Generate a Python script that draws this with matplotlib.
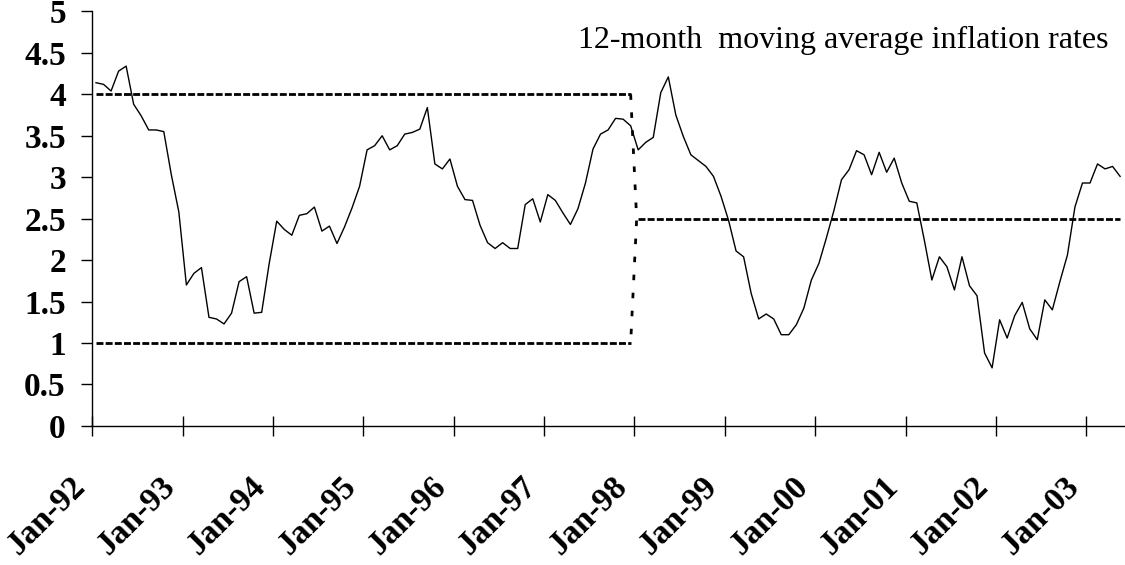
import matplotlib
matplotlib.use("Agg")
import matplotlib.pyplot as plt
import numpy as np
from matplotlib.transforms import ScaledTranslation

# monthly 12-month moving average inflation, Jan-92 .. May-03
inflation = [
    4.14, 4.12, 4.04, 4.28, 4.34, 3.88, 3.74, 3.57, 3.57, 3.55, 3.03, 2.58,
    1.70, 1.84, 1.91, 1.31, 1.29, 1.23, 1.36, 1.74, 1.80, 1.36, 1.37, 1.96,
    2.47, 2.37, 2.30, 2.54, 2.56, 2.64, 2.35, 2.41, 2.20, 2.40, 2.63, 2.89,
    3.33, 3.38, 3.50, 3.33, 3.38, 3.52, 3.54, 3.58, 3.84, 3.16, 3.10, 3.22,
    2.89, 2.73, 2.72, 2.42, 2.21, 2.14, 2.21, 2.14, 2.14, 2.67, 2.74, 2.46,
    2.79, 2.72, 2.57, 2.43, 2.62, 2.93, 3.34, 3.52, 3.57, 3.71, 3.70, 3.62,
    3.33, 3.42, 3.48, 4.02, 4.21, 3.75, 3.49, 3.27, 3.20, 3.13, 3.01, 2.77,
    2.48, 2.11, 2.04, 1.60, 1.29, 1.35, 1.29, 1.10, 1.10, 1.22, 1.42, 1.76,
    1.96, 2.27, 2.60, 2.97, 3.09, 3.32, 3.27, 3.03, 3.30, 3.06, 3.23, 2.93,
    2.71, 2.69, 2.24, 1.76, 2.04, 1.92, 1.64, 2.04, 1.69, 1.57, 0.88, 0.70,
    1.28, 1.06, 1.33, 1.49, 1.17, 1.04, 1.52, 1.40, 1.74, 2.06, 2.64, 2.93,
    2.93, 3.16, 3.10, 3.13, 3.01,
]

band_upper = 4.0
band_lower = 1.0
band_months = 72          # Jan-92 .. Dec-97
target = 2.5              # from Jan-98 on

tick_labels = ["Jan-92", "Jan-93", "Jan-94", "Jan-95", "Jan-96", "Jan-97",
               "Jan-98", "Jan-99", "Jan-00", "Jan-01", "Jan-02", "Jan-03"]

title = "12-month  moving average inflation rates"

n = len(inflation)
x = np.arange(n) + 0.5

fig = plt.figure(figsize=(11.25, 5.65), dpi=100)
ax = fig.add_axes([0.082, 0.2462, 0.917, 0.7336])

serif = "Liberation Serif"
dash = (0, (2.5, 0.8))
dot = (0, (2.0, 4.5))

ax.plot(x, inflation, color="black", lw=1.0, zorder=3)

xb = x[:band_months]
ax.plot(xb, [band_upper] * band_months, color="black", lw=2.0, linestyle=dash)
ax.plot(xb, [band_lower] * band_months, color="black", lw=2.0, linestyle=dash)

xt = x[band_months:]
ax.plot(xt, [target] * len(xt), color="black", lw=2.0, linestyle=dash)

# dotted link between the band and the point target
ax.plot([xb[-1], xt[0] - 0.2, xb[-1]], [band_upper, target, band_lower],
        color="black", lw=2.0, linestyle=dot)

ax.set_xlim(0, n)
ax.set_ylim(0, 5)

ax.set_xticks(np.arange(0, 12 * len(tick_labels), 12))
ax.set_xticklabels(tick_labels, rotation=45, ha="right", va="center",
                   rotation_mode="anchor", fontfamily=serif,
                   fontweight="bold", fontsize=24)
ax.set_yticks(np.arange(0, 5.01, 0.5))
ax.set_yticklabels([f"{v:g}" for v in np.arange(0, 5.01, 0.5)],
                   fontfamily=serif, fontweight="bold", fontsize=24)

ax.tick_params(axis="y", direction="out", length=8, width=1.0, pad=11)
ax.tick_params(axis="x", direction="inout", length=15, width=1.0, pad=33)

# shift the slanted month labels a little to the left of their ticks
shift = ScaledTranslation(-12 / 100, 0, fig.dpi_scale_trans)
for lab in ax.get_xticklabels():
    lab.set_transform(lab.get_transform() + shift)

for side in ("top", "right"):
    ax.spines[side].set_visible(False)
for side in ("left", "bottom"):
    ax.spines[side].set_linewidth(1.0)

ax.text(0.985, 0.912, title, transform=ax.transAxes, ha="right",
        va="baseline", fontfamily=serif, fontsize=23)

fig.savefig("out.png", dpi=100)
